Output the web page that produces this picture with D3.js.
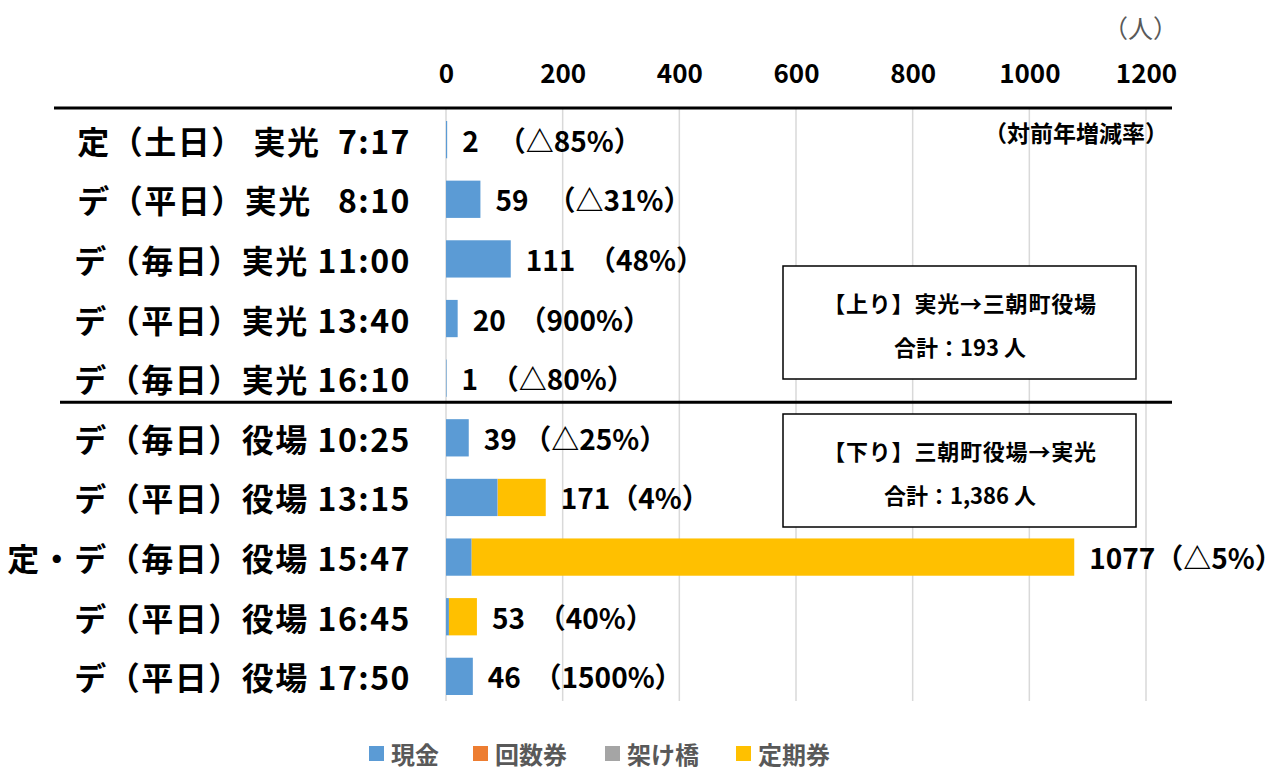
<!DOCTYPE html>
<html lang="ja">
<head>
<meta charset="UTF-8">
<title>実光線 利用者数</title>
<script src="https://d3js.org/d3.v7.min.js"></script>
<style>
  body { margin: 0; background: #fff; font-family: "Noto Sans CJK JP", sans-serif; }
  svg text { font-family: "Noto Sans CJK JP", sans-serif; white-space: pre; }
</style>
</head>
<body>
<svg id="chart" width="1288" height="771"></svg>
<script>
// 便名（上から順）
const categories = [
  "定（土日）\u00a0実光\u00a0\u00a07:17",
  "デ（平日）実光\u00a0\u00a0\u00a08:10",
  "デ（毎日）実光 11:00",
  "デ（平日）実光 13:40",
  "デ（毎日）実光 16:10",
  "デ（毎日）役場 10:25",
  "デ（平日）役場 13:15",
  "定・デ（毎日）役場 15:47",
  "デ（平日）役場 16:45",
  "デ（平日）役場 17:50"
];
// 券種別の人数
const cash     = [2, 59, 111, 20, 1, 39, 88, 44, 5, 46];
const kaisuu   = [0, 0, 0, 0, 0, 0, 0, 0, 0, 0];
const kakehashi= [0, 0, 0, 0, 0, 0, 1, 0, 0, 0];
const teiki    = [0, 0, 0, 0, 0, 0, 82, 1033, 48, 0];
// 対前年増減率ラベル（合計の後ろ）
const changeLabels = [
  "\u00a0\u00a0\u00a0（△85%）", "\u00a0\u00a0\u00a0（△31%）", "\u00a0\u00a0（48%）",
  "\u00a0\u00a0（900%）", "\u00a0\u00a0（△80%）", "\u00a0（△25%）", "（4%）",
  "（△5%）", "\u00a0\u00a0（40%）", "\u00a0\u00a0（1500%）"
];
const seriesNames = ["現金", "回数券", "架け橋", "定期券"];
const seriesColors = ["#5B9BD5", "#ED7D31", "#A5A5A5", "#FFC000"];
const xTicks = [0, 200, 400, 600, 800, 1000, 1200];
const boxTexts = [
  ["【上り】実光→三朝町役場", "合計：193 人"],
  ["【下り】三朝町役場→実光", "合計：1,386 人"]
];

const rows = categories.map((c, i) => ({
  name: c, "現金": cash[i], "回数券": kaisuu[i], "架け橋": kakehashi[i], "定期券": teiki[i]
}));
const totals = rows.map(r => d3.sum(seriesNames, k => r[k]));

const svg = d3.select("#chart");
const x = d3.scaleLinear().domain([0, 1200]).range([446, 1146]);
const y = d3.scaleBand().domain(categories).range([121, 695]).paddingInner(0.375).paddingOuter(0);
const color = d3.scaleOrdinal().domain(seriesNames).range(seriesColors);

// グリッド線
svg.append("g").selectAll("line").data(xTicks).join("line")
  .attr("x1", d => x(d)).attr("x2", d => x(d))
  .attr("y1", 108).attr("y2", 701)
  .attr("stroke", "#d9d9d9").attr("stroke-width", 1.5);

// 上部の軸
const xAxis = d3.axisTop(x).tickValues(xTicks).tickFormat(d3.format("d")).tickSize(0).tickPadding(0);
const gx = svg.append("g").attr("transform", "translate(0,83)").call(xAxis);
gx.select(".domain").remove();
gx.selectAll("text")
  .attr("font-size", 26).attr("font-weight", "bold").attr("fill", "#000")
  .style("font-family", "'Noto Sans CJK JP', sans-serif");

// 積み上げ棒
const stack = d3.stack().keys(seriesNames);
const series = stack(rows);
svg.append("g").selectAll("g").data(series).join("g")
  .attr("fill", d => color(d.key))
  .selectAll("rect").data(d => d).join("rect")
  .attr("x", d => x(d[0]))
  .attr("y", d => y(d.data.name))
  .attr("width", d => Math.max(0, x(d[1]) - x(d[0])))
  .attr("height", y.bandwidth());

// 区切り線
const topLineY = 108;
const midLineY = y(categories[5]) - 17;
svg.append("line").attr("x1", 54).attr("x2", 1172).attr("y1", topLineY).attr("y2", topLineY)
  .attr("stroke", "#000").attr("stroke-width", 3);
svg.append("line").attr("x1", 60).attr("x2", 1172).attr("y1", midLineY).attr("y2", midLineY)
  .attr("stroke", "#000").attr("stroke-width", 3);

// 便名ラベル
svg.append("g").selectAll("text").data(categories).join("text")
  .attr("x", 411)
  .attr("y", d => y(d) + y.bandwidth() / 2)
  .attr("text-anchor", "end")
  .attr("dominant-baseline", "central")
  .attr("font-size", 32).attr("font-weight", "bold")
  .attr("letter-spacing", 1.5)
  .text(d => d);

// 合計＋増減率ラベル
svg.append("g").selectAll("text").data(rows).join("text")
  .attr("x", (d, i) => x(totals[i]) + 15)
  .attr("y", d => y(d.name) + y.bandwidth() / 2)
  .attr("dominant-baseline", "central")
  .attr("font-size", 28).attr("font-weight", "bold")
  .text((d, i) => totals[i] + changeLabels[i]);

// 単位
svg.append("text").attr("x", 1178).attr("y", 27).attr("text-anchor", "end")
  .attr("dominant-baseline", "central").attr("font-size", 25).attr("fill", "#595959")
  .text("（人）");
svg.append("text").attr("x", 1168).attr("y", 132).attr("text-anchor", "end")
  .attr("dominant-baseline", "central").attr("font-size", 23).attr("font-weight", "bold")
  .text("（対前年増減率）");

// 合計ボックス
const boxes = [[266, 379], [414, 527]];
boxes.forEach((b, i) => {
  svg.append("rect").attr("x", 783).attr("y", b[0]).attr("width", 353).attr("height", b[1] - b[0])
    .attr("fill", "#fff").attr("stroke", "#000").attr("stroke-width", 1.5);
  svg.append("text").attr("x", 960).attr("y", b[0] + 36).attr("text-anchor", "middle")
    .attr("dominant-baseline", "central").attr("font-size", 22).attr("font-weight", "bold")
    .attr("letter-spacing", 0.8)
    .text(boxTexts[i][0]);
  svg.append("text").attr("x", 960).attr("y", b[0] + 80).attr("text-anchor", "middle")
    .attr("dominant-baseline", "central").attr("font-size", 22).attr("font-weight", "bold")
    .text(boxTexts[i][1]);
});

// 凡例
const legendX = [369, 473, 605, 736];
const lg = svg.append("g").selectAll("g").data(seriesNames).join("g")
  .attr("transform", (d, i) => `translate(${legendX[i]},753)`);
lg.append("rect").attr("x", 0).attr("y", -7).attr("width", 15).attr("height", 15)
  .attr("fill", d => color(d));
lg.append("text").attr("x", 22).attr("y", 0).attr("dominant-baseline", "central")
  .attr("font-size", 24).attr("font-weight", "bold").attr("fill", "#595959")
  .text(d => d);
</script>
</body>
</html>
